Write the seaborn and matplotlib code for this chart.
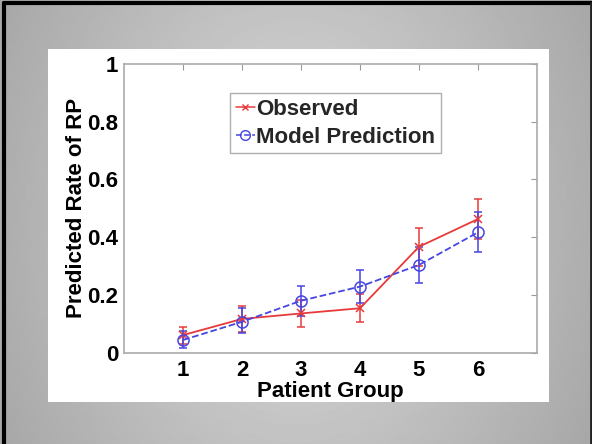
import numpy as np
import pandas as pd
import matplotlib
matplotlib.use("Agg")
import matplotlib.pyplot as plt
import seaborn as sns
from matplotlib.patches import Rectangle
from matplotlib.lines import Line2D

# ---- data ----
groups = [1, 2, 3, 4, 5, 6]
observed = [0.061, 0.117, 0.136, 0.154, 0.367, 0.463]
observed_lo = [0.030, 0.072, 0.088, 0.105, 0.300, 0.393]
observed_hi = [0.090, 0.162, 0.184, 0.205, 0.433, 0.531]
model = [0.044, 0.107, 0.180, 0.229, 0.304, 0.417]
model_lo = [0.015, 0.067, 0.128, 0.172, 0.242, 0.350]
model_hi = [0.075, 0.154, 0.232, 0.286, 0.365, 0.486]
series_names = ["Observed", "Model Prediction"]
yticks = [0, 0.2, 0.4, 0.6, 0.8, 1]
ytick_labels = ["0", "0.2", "0.4", "0.6", "0.8", "1"]

sns.set_theme(style="white")
plt.rcParams["font.family"] = ["Liberation Sans", "DejaVu Sans"]
plt.rcParams["font.weight"] = "bold"

FS = 16
W, H = 592, 444
fig = plt.figure(figsize=(W / 100, H / 100), dpi=100)

# slide background gradient
bg = fig.add_axes([0, 0, 1, 1], zorder=-10)
yy, xx = np.mgrid[0:H, 0:W]
r = np.sqrt(((xx - W / 2) / (W / 2)) ** 2 + (0.55 * (yy - H / 2) / (H / 2)) ** 2)
v = 0.86 - 0.18 * r
bg.imshow(v, cmap="gray", vmin=0, vmax=1, extent=[0, W, H, 0], aspect="auto", interpolation="bilinear")
bg.set_xlim(0, W)
bg.set_ylim(H, 0)
bg.axis("off")
# white panel
bg.add_patch(Rectangle((48, 49), 501, 353, facecolor="white", edgecolor="none"))
# slide border
bg.plot([3.5, 3.5], [3.5, H], color="black", lw=3)
bg.plot([3.5, W], [3.5, 3.5], color="black", lw=3)
bg.plot([W - 1, W - 1], [3.5, H], color="#222222", lw=2)

ax = fig.add_axes([124 / W, 1 - 352.7 / H, 413 / W, 288.7 / H])
ax.set_facecolor("white")

red = "#e83a3a"
blue = "#4646e0"

df = pd.DataFrame({
    "group": groups * 2,
    "rate": observed + model,
    "series": [series_names[0]] * 6 + [series_names[1]] * 6,
})

# error bars
ax.errorbar(groups, observed,
            yerr=[np.array(observed) - np.array(observed_lo), np.array(observed_hi) - np.array(observed)],
            fmt="none", ecolor=red, elinewidth=1.1, capsize=3, capthick=1.1, zorder=2)
ax.errorbar(groups, model,
            yerr=[np.array(model) - np.array(model_lo), np.array(model_hi) - np.array(model)],
            fmt="none", ecolor=blue, elinewidth=1.1, capsize=3, capthick=1.1, zorder=2)

sns.lineplot(data=df[df.series == series_names[0]], x="group", y="rate", ax=ax,
             color=red, lw=1.3, marker="x", markersize=6, markeredgewidth=1.1,
             markeredgecolor=red, zorder=3, legend=False)
sns.lineplot(data=df[df.series == series_names[1]], x="group", y="rate", ax=ax,
             color=blue, lw=1.3, linestyle="--", marker="o", markersize=8,
             markerfacecolor="none", markeredgecolor=blue, markeredgewidth=1.1,
             zorder=3, legend=False)

ax.set_xlim(0, 7)
ax.set_ylim(0, 1)
ax.set_xticks(groups)
ax.set_xticklabels([str(g) for g in groups])
ax.set_yticks(yticks)
ax.set_yticklabels(ytick_labels)
ax.tick_params(axis="both", which="both", direction="in", length=4, width=0.8,
               color="#999999", top=True, right=True, labelsize=FS)
ax.tick_params(axis="x", pad=5)
ax.tick_params(axis="y", pad=4)
for lab in ax.get_xticklabels() + ax.get_yticklabels():
    lab.set_fontweight("bold")
    lab.set_color("black")
for s in ax.spines.values():
    s.set_visible(True)
    s.set_color("#aaaaaa")
    s.set_linewidth(1.2)

ax.set_xlabel("Patient Group", fontsize=FS, fontweight="bold", color="black", labelpad=0)
ax.set_ylabel("Predicted Rate of RP", fontsize=FS, fontweight="bold", color="black", labelpad=0.5)

handles = [
    Line2D([], [], color=red, lw=1.1, marker="x", markersize=5, markeredgewidth=1),
    Line2D([], [], color=blue, lw=1.1, linestyle="--", marker="o", markersize=7,
           markerfacecolor="none", markeredgewidth=1),
]
leg = ax.legend(handles, series_names, loc="upper left", bbox_to_anchor=(0.257, 0.898),
                prop={"weight": "bold", "size": FS}, frameon=True, fancybox=False,
                edgecolor="#999999", handlelength=0.85, handletextpad=0.08,
                borderpad=0.25, labelspacing=0.3, borderaxespad=0)
leg.get_frame().set_linewidth(1.0)

fig.savefig("out.png", dpi=100)
